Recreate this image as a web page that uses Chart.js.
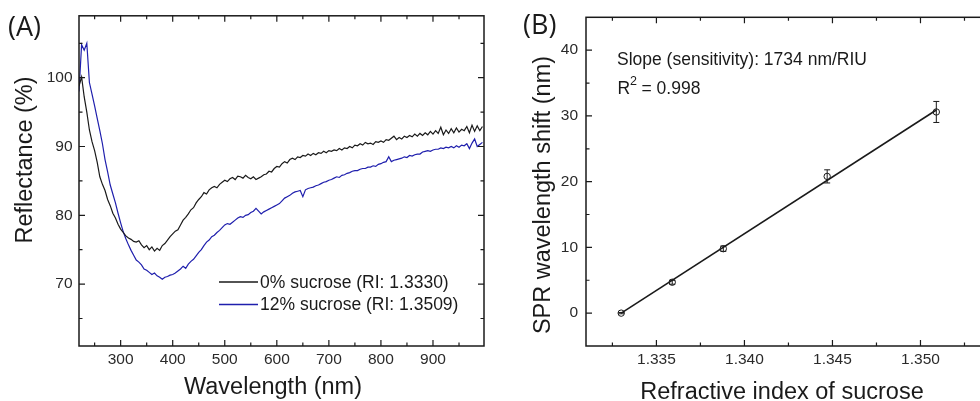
<!DOCTYPE html>
<html>
<head>
<meta charset="utf-8">
<script src="https://cdn.jsdelivr.net/npm/chart.js@4.4.1/dist/chart.umd.min.js"></script>
<style>
  html, body { margin: 0; padding: 0; background: #fff; overflow: hidden; }
  body { width: 980px; height: 401px; position: relative; }
  #chartA { position: absolute; left: 0; top: 0; }
  #chartB { position: absolute; left: 490px; top: 0; }
</style>
</head>
<body>
<canvas id="chartA" width="490" height="401"></canvas>
<canvas id="chartB" width="540" height="401"></canvas>
<script>
// (A) reflectance spectra, sampled every 5 nm
const wavelengths = [
  220, 225, 230, 235, 240, 245, 250, 255, 260, 265,
  270, 275, 280, 285, 290, 295, 300, 305, 310, 315,
  320, 325, 330, 335, 340, 345, 350, 355, 360, 365,
  370, 375, 380, 385, 390, 395, 400, 405, 410, 415,
  420, 425, 430, 435, 440, 445, 450, 455, 460, 465,
  470, 475, 480, 485, 490, 495, 500, 505, 510, 515,
  520, 525, 530, 535, 540, 545, 550, 555, 560, 565,
  570, 575, 580, 585, 590, 595, 600, 605, 610, 615,
  620, 625, 630, 635, 640, 645, 650, 655, 660, 665,
  670, 675, 680, 685, 690, 695, 700, 705, 710, 715,
  720, 725, 730, 735, 740, 745, 750, 755, 760, 765,
  770, 775, 780, 785, 790, 795, 800, 805, 810, 815,
  820, 825, 830, 835, 840, 845, 850, 855, 860, 865,
  870, 875, 880, 885, 890, 895, 900, 905, 910, 915,
  920, 925, 930, 935, 940, 945, 950, 955, 960, 965,
  970, 975, 980, 985, 990, 995
];
const refl0 = [
  98.8, 100.1, 97.2, 95.0, 92.4, 90.7, 89.4, 87.7, 85.6, 84.5,
  83.6, 82.3, 81.4, 80.3, 79.6, 78.7, 78.0, 77.5, 77.0, 76.7,
  76.5, 76.2, 76.1, 76.3, 75.7, 75.3, 75.6, 75.0, 75.4, 74.8,
  75.2, 74.9, 75.6, 75.9, 76.4, 76.9, 77.3, 77.7, 77.9, 78.6,
  79.3, 79.7, 80.2, 80.8, 81.1, 81.8, 82.3, 82.7, 83.3, 83.1,
  83.7, 84.0, 84.2, 84.0, 84.5, 84.8, 85.1, 84.9, 85.3, 85.5,
  85.2, 85.7, 85.6, 85.4, 85.8, 85.5, 85.3, 85.6, 85.2, 85.4,
  85.6, 85.9, 86.0, 86.4, 86.3, 86.8, 87.1, 87.0, 87.5, 87.8,
  87.6, 88.1, 88.3, 88.1, 88.5, 88.4, 88.7, 88.6, 88.9, 88.7,
  89.0, 88.8, 89.1, 89.0, 89.3, 89.1, 89.4, 89.3, 89.5, 89.4,
  89.7, 89.5, 89.8, 89.7, 90.0, 89.8, 90.2, 90.1, 90.4, 90.2,
  90.6, 90.4, 90.5, 90.3, 90.7, 90.6, 90.8, 90.6, 91.0, 90.9,
  91.2, 91.5, 91.0, 91.3, 91.1, 91.5, 91.3, 91.6, 91.4, 91.8,
  91.5, 91.9, 91.6, 92.0, 91.7, 92.2, 91.8, 92.3, 91.9, 92.8,
  91.7, 92.4, 91.9, 92.6, 92.0, 92.7, 92.1, 92.5, 92.3, 92.9,
  92.0, 93.1, 92.2, 93.0, 92.3, 92.9
];
const refl12 = [
  98.0, 104.8, 104.0, 105.0, 99.3, 97.6, 95.9, 94.1, 92.3, 90.4,
  88.1, 86.3, 84.4, 83.1, 81.8, 80.3, 78.9, 77.6, 76.6, 75.7,
  74.9, 74.2, 73.5, 73.2, 72.8, 72.2, 72.0, 71.7, 71.4, 71.6,
  71.2, 71.0, 70.7, 71.0, 71.1, 71.3, 71.4, 71.6, 71.9, 72.2,
  72.6, 72.3, 72.9, 73.3, 73.6, 74.1, 74.6, 75.0, 75.6, 76.1,
  76.4, 76.9, 77.1, 77.5, 77.8, 78.2, 78.6, 78.8, 78.7, 79.0,
  79.3, 79.6, 79.8, 79.7, 80.0, 80.1, 80.4, 80.6, 81.0, 80.6,
  80.2, 80.5, 80.7, 80.9, 81.1, 81.3, 81.5, 81.7, 82.1, 82.5,
  82.7, 82.9, 83.2, 83.4, 83.5, 83.6, 82.7, 83.7, 83.9, 84.0,
  84.1, 84.3, 84.4, 84.6, 84.8, 84.9, 85.1, 85.2, 85.4, 85.6,
  85.5, 85.8, 85.9, 86.1, 86.2, 86.4, 86.5, 86.5, 86.7, 86.8,
  86.8, 87.0, 87.0, 87.2, 87.1, 87.4, 87.5, 87.7, 87.8, 88.5,
  87.8, 88.0, 88.1, 88.2, 88.3, 88.5, 88.4, 88.7, 88.6, 88.8,
  88.9, 88.9, 89.2, 89.3, 89.4, 89.3, 89.5, 89.6, 89.6, 89.8,
  89.7, 89.9, 89.8, 90.0, 89.8, 90.1, 89.9, 90.2, 90.1, 90.4,
  89.7, 90.5, 91.1, 90.0, 90.3, 90.6
];
const seriesLabels = ['0% sucrose (RI: 1.3330)', '12% sucrose (RI: 1.3509)'];
const wlTicks = [300, 400, 500, 600, 700, 800, 900];
const wlMinor = [250, 350, 450, 550, 650, 750, 850, 950];
const reflTicks = [70, 80, 90, 100];
const reflMinor = [65, 75, 85, 95, 105];

// (B) SPR shift vs refractive index
const riValues = [1.3330, 1.3359, 1.3388, 1.3447, 1.3509];
const shiftValues = [0, 4.7, 9.8, 20.8, 30.6];
const shiftErrors = [0.1, 0.3, 0.4, 1.0, 1.6];
const fitRI = [1.3330, 1.3509];
const fitShift = [0.0, 30.9];
const riTicks = [1.335, 1.340, 1.345, 1.350];
const riMinor = [1.3325, 1.3375, 1.3425, 1.3475, 1.3525];
const shiftTicks = [0, 10, 20, 30, 40];
const shiftMinor = [5, 15, 25, 35];

const SANS = "'Liberation Sans', Arial, sans-serif";
const INK = '#1a1a1a';
const BLUE = '#1f1fad';

// box round the plot with inward ticks on all four sides
const frameTicks = {
  id: 'frameTicks',
  afterDraw(chart, args, opts) {
    const {ctx, chartArea: a, scales: {x, y}} = chart;
    ctx.save();
    ctx.strokeStyle = INK;
    ctx.lineWidth = 1.5;
    ctx.strokeRect(a.left, a.top, a.right - a.left, a.bottom - a.top);
    ctx.lineWidth = 1.2;
    const tick = (scale, vals, len) => {
      vals.forEach(v => {
        const p = scale.getPixelForValue(v);
        ctx.beginPath();
        if (scale.isHorizontal()) {
          ctx.moveTo(p, a.bottom); ctx.lineTo(p, a.bottom - len);
          ctx.moveTo(p, a.top); ctx.lineTo(p, a.top + len);
        } else {
          ctx.moveTo(a.left, p); ctx.lineTo(a.left + len, p);
          ctx.moveTo(a.right, p); ctx.lineTo(a.right - len, p);
        }
        ctx.stroke();
      });
    };
    tick(x, opts.xMajor, 6);
    tick(x, opts.xMinor, 3.5);
    tick(y, opts.yMajor, 6);
    tick(y, opts.yMinor, 3.5);
    ctx.restore();
  }
};

// free text: panel letters, axis titles, notes
const texts = {
  id: 'texts',
  afterDraw(chart, args, opts) {
    const ctx = chart.ctx;
    opts.items.forEach(t => {
      ctx.save();
      ctx.font = t.font;
      ctx.fillStyle = t.color || INK;
      ctx.textAlign = t.align || 'left';
      ctx.textBaseline = 'alphabetic';
      ctx.translate(t.x, t.y);
      if (t.rot) ctx.rotate(t.rot);
      ctx.fillText(t.text, 0, 0);
      ctx.restore();
    });
  }
};

// legend drawn inside the plot, from the dataset labels and colours
const innerLegend = {
  id: 'innerLegend',
  afterDraw(chart, args, opts) {
    const ctx = chart.ctx;
    ctx.save();
    ctx.font = opts.font;
    ctx.textBaseline = 'alphabetic';
    chart.data.datasets.forEach((ds, i) => {
      const ly = opts.y + i * opts.gap;
      ctx.strokeStyle = ds.borderColor;
      ctx.lineWidth = 1.5;
      ctx.beginPath();
      ctx.moveTo(opts.x, ly);
      ctx.lineTo(opts.x + opts.len, ly);
      ctx.stroke();
      ctx.fillStyle = INK;
      ctx.fillText(ds.label, opts.x + opts.len + 2, ly + 5.5);
    });
    ctx.restore();
  }
};

const errorBars = {
  id: 'errorBars',
  afterDatasetsDraw(chart) {
    const {ctx, scales: {x, y}} = chart;
    ctx.save();
    ctx.strokeStyle = INK;
    ctx.lineWidth = 1;
    riValues.forEach((ri, i) => {
      const px = x.getPixelForValue(ri);
      const top = y.getPixelForValue(shiftValues[i] + shiftErrors[i]);
      const bot = y.getPixelForValue(shiftValues[i] - shiftErrors[i]);
      ctx.beginPath();
      ctx.moveTo(px, top); ctx.lineTo(px, bot);
      ctx.moveTo(px - 3, top); ctx.lineTo(px + 3, top);
      ctx.moveTo(px - 3, bot); ctx.lineTo(px + 3, bot);
      ctx.stroke();
    });
    ctx.restore();
  }
};

const tickFont = {family: SANS, size: 15.5};

function fixedTicks(list) {
  return scale => { scale.ticks = list.map(v => ({value: v})); };
}

// Panel A
new Chart(document.getElementById('chartA'), {
  type: 'line',
  data: {
    datasets: [
      {
        label: seriesLabels[0],
        data: wavelengths.map((w, i) => ({x: w, y: refl0[i]})),
        borderColor: INK,
        borderWidth: 1.2,
        pointRadius: 0,
        tension: 0
      },
      {
        label: seriesLabels[1],
        data: wavelengths.map((w, i) => ({x: w, y: refl12[i]})),
        borderColor: BLUE,
        borderWidth: 1.2,
        pointRadius: 0,
        tension: 0
      }
    ]
  },
  options: {
    responsive: false,
    animation: false,
    events: [],
    layout: {padding: {left: 0, top: 15, right: 6, bottom: 0}},
    scales: {
      x: {
        type: 'linear', min: 220, max: 998,
        grid: {display: false, drawTicks: false},
        border: {display: false},
        afterBuildTicks: fixedTicks(wlTicks),
        afterFit: s => { s.height = 55; },
        ticks: {font: tickFont, color: '#2a2a2a', padding: 4, autoSkip: false, maxRotation: 0}
      },
      y: {
        min: 61, max: 109,
        grid: {display: false, drawTicks: false},
        border: {display: false},
        afterBuildTicks: fixedTicks(reflTicks),
        afterFit: s => { s.width = 79; },
        ticks: {font: tickFont, color: '#2a2a2a', padding: 6.5}
      }
    },
    plugins: {
      legend: {display: false},
      tooltip: {enabled: false},
      frameTicks: {xMajor: wlTicks, xMinor: wlMinor, yMajor: reflTicks, yMinor: reflMinor},
      innerLegend: {x: 219, y: 282, gap: 22.5, len: 39, font: `17.5px ${SANS}`},
      texts: {items: [
        {text: '(A)', x: 8, y: 35.5, font: "27px 'Open Sans', sans-serif"},
        {text: 'Reflectance (%)', x: 31.5, y: 160, rot: -Math.PI / 2, align: 'center', font: `23.5px ${SANS}`},
        {text: 'Wavelength (nm)', x: 273, y: 393.5, align: 'center', font: `23.5px ${SANS}`}
      ]}
    }
  },
  plugins: [frameTicks, innerLegend, texts]
});

// Panel B (its right edge runs past the window)
new Chart(document.getElementById('chartB'), {
  type: 'scatter',
  data: {
    datasets: [
      {
        type: 'line',
        label: 'Linear fit',
        data: fitRI.map((r, i) => ({x: r, y: fitShift[i]})),
        borderColor: INK,
        borderWidth: 1.6,
        pointRadius: 0,
        order: 2
      },
      {
        label: 'SPR shift',
        data: riValues.map((r, i) => ({x: r, y: shiftValues[i]})),
        pointStyle: 'circle',
        pointRadius: 3.2,
        borderWidth: 1,
        borderColor: INK,
        backgroundColor: 'rgba(255,255,255,0)',
        order: 1
      }
    ]
  },
  options: {
    responsive: false,
    animation: false,
    events: [],
    layout: {padding: {left: 0, top: 15, right: 21.5, bottom: 0}},
    scales: {
      x: {
        type: 'linear', min: 1.331, max: 1.355,
        grid: {display: false, drawTicks: false},
        border: {display: false},
        afterBuildTicks: fixedTicks(riTicks),
        afterFit: s => { s.height = 55; },
        ticks: {font: tickFont, color: '#2a2a2a', padding: 4, autoSkip: false, maxRotation: 0,
                callback: v => v.toFixed(3)}
      },
      y: {
        min: -5, max: 45,
        grid: {display: false, drawTicks: false},
        border: {display: false},
        afterBuildTicks: fixedTicks(shiftTicks),
        afterFit: s => { s.width = 96; },
        ticks: {font: tickFont, color: '#2a2a2a', padding: 8}
      }
    },
    plugins: {
      legend: {display: false},
      tooltip: {enabled: false},
      frameTicks: {xMajor: riTicks, xMinor: riMinor, yMajor: shiftTicks, yMinor: shiftMinor},
      texts: {items: [
        {text: '(B)', x: 33, y: 33.5, font: "27px 'Open Sans', sans-serif"},
        {text: 'SPR wavelength shift (nm)', x: 60, y: 195, rot: -Math.PI / 2, align: 'center', font: `23.5px ${SANS}`},
        {text: 'Refractive index of sucrose', x: 292, y: 399, align: 'center', font: `23.5px ${SANS}`},
        {text: 'Slope (sensitivity): 1734 nm/RIU', x: 127, y: 64.5, font: `17.5px ${SANS}`},
        {text: 'R', x: 127.5, y: 94, font: `17.5px ${SANS}`},
        {text: '2', x: 140, y: 85, font: `12.5px ${SANS}`},
        {text: '= 0.998', x: 151.5, y: 94, font: `17.5px ${SANS}`}
      ]}
    }
  },
  plugins: [frameTicks, errorBars, texts]
});
</script>
</body>
</html>
